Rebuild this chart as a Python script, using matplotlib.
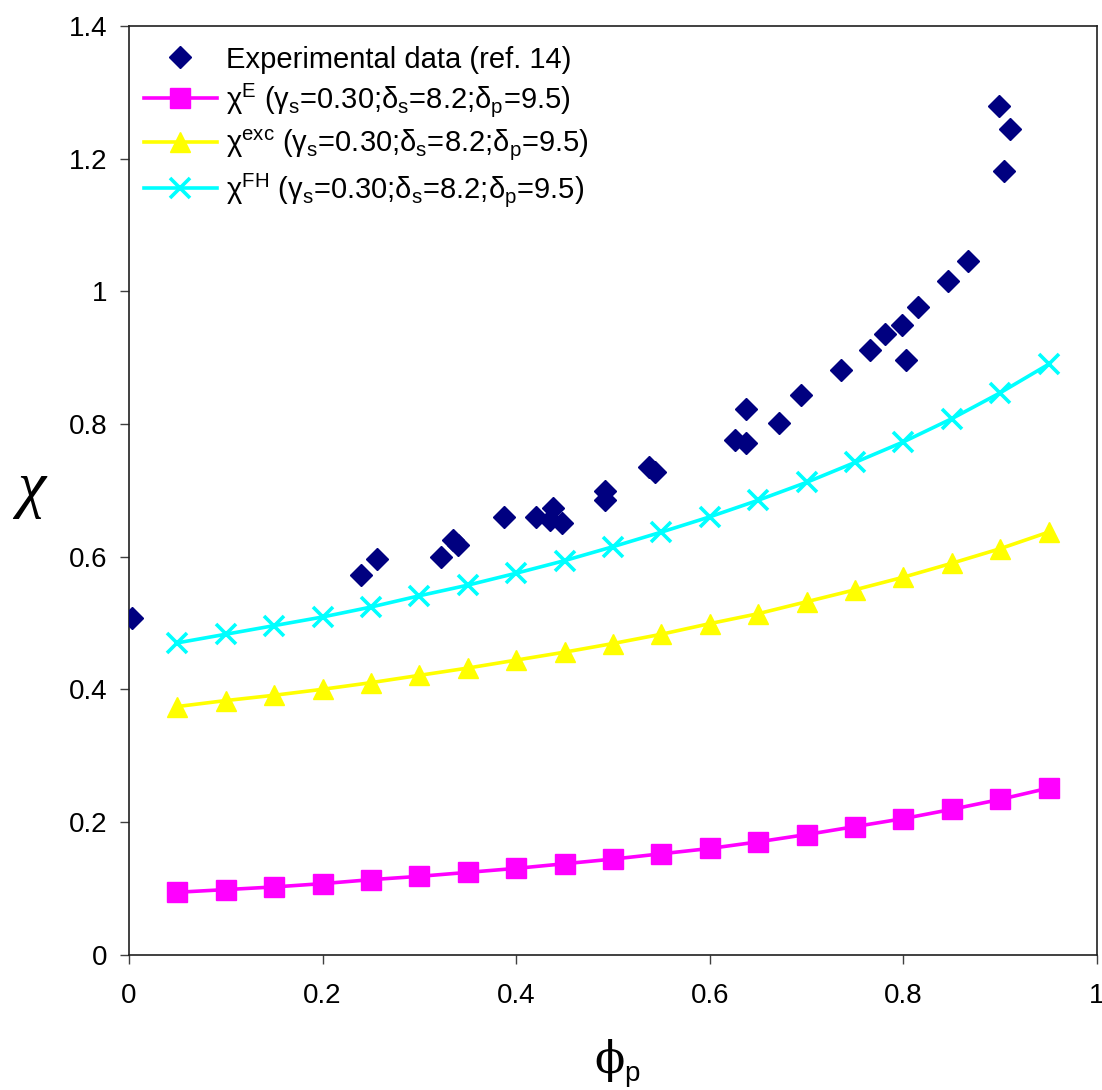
import matplotlib
matplotlib.use("Agg")
import matplotlib.pyplot as plt

plt.rcParams['font.family'] = ['Liberation Sans', 'DejaVu Sans']
plt.rcParams['mathtext.fontset'] = 'custom'
plt.rcParams['mathtext.rm'] = 'Liberation Sans'
plt.rcParams['mathtext.it'] = 'Liberation Sans'
plt.rcParams['mathtext.default'] = 'regular'

# Experimental data (ref. 14)
exp_phi = [0.003, 0.240, 0.256, 0.322, 0.335, 0.340, 0.387, 0.420, 0.435, 0.438,
           0.447, 0.492, 0.492, 0.537, 0.543, 0.626, 0.637, 0.637, 0.671, 0.694,
           0.736, 0.766, 0.781, 0.799, 0.803, 0.815, 0.846, 0.867, 0.899, 0.904,
           0.910]
exp_chi = [0.507, 0.572, 0.596, 0.600, 0.625, 0.618, 0.660, 0.660, 0.655, 0.674,
           0.651, 0.699, 0.685, 0.735, 0.727, 0.776, 0.771, 0.822, 0.801, 0.844,
           0.881, 0.911, 0.935, 0.949, 0.896, 0.977, 1.015, 1.046, 1.279, 1.182,
           1.244]

# model curves
phi = [0.05, 0.10, 0.15, 0.20, 0.25, 0.30, 0.35, 0.40, 0.45, 0.50,
       0.55, 0.60, 0.65, 0.70, 0.75, 0.80, 0.85, 0.90, 0.95]
chi_E = [0.094, 0.098, 0.102, 0.107, 0.113, 0.118, 0.124, 0.130, 0.137, 0.144,
         0.152, 0.160, 0.170, 0.181, 0.193, 0.205, 0.219, 0.234, 0.251]
chi_exc = [0.374, 0.383, 0.391, 0.400, 0.410, 0.421, 0.432, 0.444, 0.456, 0.469,
           0.483, 0.499, 0.514, 0.532, 0.550, 0.569, 0.590, 0.612, 0.637]
chi_FH = [0.470, 0.483, 0.496, 0.509, 0.524, 0.541, 0.557, 0.575, 0.594, 0.615,
          0.637, 0.660, 0.685, 0.712, 0.742, 0.773, 0.808, 0.847, 0.890]

labels = ['Experimental data (ref. 14)',
          'χ$^{E}$ (γ$_{s}$=0.30;δ$_{s}$=8.2;δ$_{p}$=9.5)',
          'χ$^{exc}$ (γ$_{s}$=0.30;δ$_{s}$=8.2;δ$_{p}$=9.5)',
          'χ$^{FH}$ (γ$_{s}$=0.30;δ$_{s}$=8.2;δ$_{p}$=9.5)']

xticks = [0, 0.2, 0.4, 0.6, 0.8, 1]
xticklabels = ['0', '0.2', '0.4', '0.6', '0.8', '1']
yticks = [0, 0.2, 0.4, 0.6, 0.8, 1.0, 1.2, 1.4]
yticklabels = ['0', '0.2', '0.4', '0.6', '0.8', '1', '1.2', '1.4']

fig = plt.figure(figsize=(11.02, 10.90), dpi=100)
W, H = 1102, 1090
ax = fig.add_axes([129 / W, 1 - 954.6 / H, (1097 - 129) / W, (954.6 - 26) / H])

ax.plot(exp_phi, exp_chi, linestyle='none', marker='D', ms=11,
        color='#000080', mec='#000080', label=labels[0], zorder=5)
ax.plot(phi, chi_E, color='#FF00FF', lw=2.6, marker='s', ms=14,
        mec='#FF00FF', label=labels[1], zorder=3)
ax.plot(phi, chi_exc, color='#FFFF00', lw=2.6, marker='^', ms=15,
        mec='#FFFF00', label=labels[2], zorder=3)
ax.plot(phi, chi_FH, color='#00FFFF', lw=2.6, marker='x', ms=15, mew=2.6,
        label=labels[3], zorder=4)

ax.set_xlim(0, 1)
ax.set_ylim(0, 1.4)
ax.set_xticks(xticks)
ax.set_xticklabels(xticklabels)
ax.set_yticks(yticks)
ax.set_yticklabels(yticklabels)
ax.tick_params(axis='both', direction='out', length=6.5, width=1.0,
               color='#404040', labelsize=20)
ax.tick_params(axis='x', pad=14)
ax.tick_params(axis='y', pad=9)
for s in ax.spines.values():
    s.set_color('#202020')
    s.set_linewidth(1.2)

fig.text(609 / W, 1 - 1060 / H, 'ϕ', fontsize=32, family=['DejaVu Serif'],
         ha='center', va='center')
fig.text(632 / W, 1 - 1074 / H, 'p', fontsize=20, ha='center', va='center')
fig.text(31 / W, 1 - 490 / H, 'χ', fontsize=46, style='italic',
         family=['Liberation Serif', 'DejaVu Serif'], ha='center', va='center')

leg = ax.legend(loc='upper left', bbox_to_anchor=(15 / 968, 0.979),
                frameon=False, fontsize=21, handlelength=2.5, handletextpad=0.3,
                borderpad=0, borderaxespad=0, labelspacing=0.28)

fig.savefig('out.png', dpi=100)
